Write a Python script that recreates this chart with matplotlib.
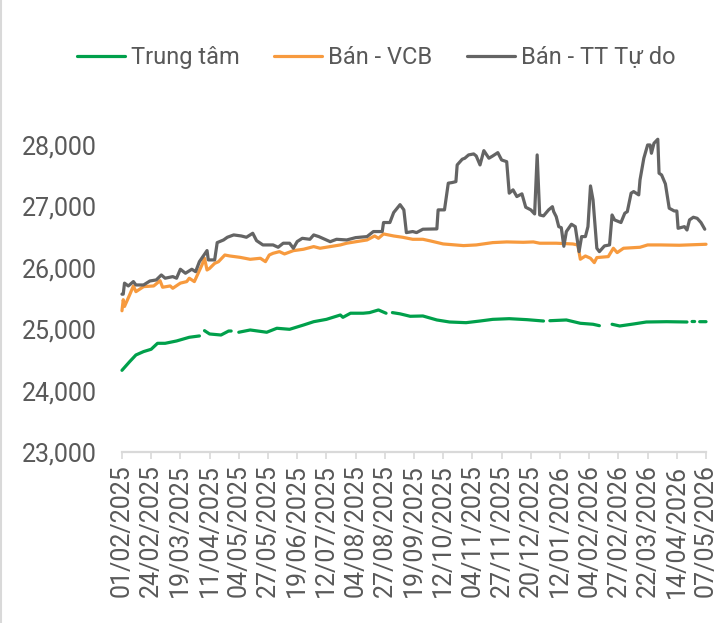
import numpy as np
import pandas as pd
import matplotlib
matplotlib.use("Agg")
import matplotlib.pyplot as plt
import matplotlib.dates as mdates
from matplotlib.ticker import FuncFormatter
from matplotlib.lines import Line2D

# --- data ---
central_dates = [
    "2025-02-01", "2025-02-07", "2025-02-12", "2025-02-18", "2025-02-24", "2025-03-01",
    "2025-03-07", "2025-03-16", "2025-03-26", "2025-04-03", "2025-04-05", "2025-04-07",
    "2025-04-11", "2025-04-20", "2025-04-26", "2025-04-28", "2025-05-01", "2025-05-04",
    "2025-05-13", "2025-05-26", "2025-06-03", "2025-06-13", "2025-06-24", "2025-07-02",
    "2025-07-12", "2025-07-23", "2025-07-25", "2025-07-31", "2025-08-10", "2025-08-15",
    "2025-08-22", "2025-08-28", "2025-08-30", "2025-09-02", "2025-09-08", "2025-09-16",
    "2025-09-26", "2025-10-07", "2025-10-17", "2025-10-30", "2025-11-10", "2025-11-20",
    "2025-12-03", "2025-12-17", "2025-12-30", "2026-01-01", "2026-01-04", "2026-01-17",
    "2026-01-28", "2026-02-07", "2026-02-12", "2026-02-16", "2026-02-22", "2026-02-28",
    "2026-03-11", "2026-03-21", "2026-04-06", "2026-04-22", "2026-04-24", "2026-04-26",
    "2026-04-28", "2026-04-29", "2026-05-02", "2026-05-07",
]
central_rate = [
    24330, 24470, 24580, 24635, 24673, 24770,
    24770, 24808, 24868, 24890, np.nan, 24976,
    24922, 24905, 24970, 24970, np.nan, 24950,
    24987, 24950, 25015, 24998, 25068, 25122,
    25160, 25231, 25193, 25260, 25260, 25270,
    25313, 25260, np.nan, 25270, 25250, 25210,
    25215, 25150, 25117, 25106, 25133, 25160,
    25171, 25155, 25133, np.nan, 25138, 25150,
    25096, 25080, 25057, np.nan, 25080, 25052,
    25085, 25117, 25122, 25117, np.nan, 25125,
    25125, np.nan, 25122, 25122,
]

vcb_dates = [
    "2025-02-01", "2025-02-02", "2025-02-03", "2025-02-07", "2025-02-10", "2025-02-12",
    "2025-02-18", "2025-02-26", "2025-03-03", "2025-03-05", "2025-03-11", "2025-03-13",
    "2025-03-19", "2025-03-24", "2025-03-26", "2025-03-30", "2025-04-02", "2025-04-05",
    "2025-04-07", "2025-04-09", "2025-04-11", "2025-04-15", "2025-04-18", "2025-04-23",
    "2025-04-27", "2025-05-05", "2025-05-13", "2025-05-21", "2025-05-25", "2025-05-28",
    "2025-05-31", "2025-06-05", "2025-06-09", "2025-06-16", "2025-06-24", "2025-07-02",
    "2025-07-07", "2025-07-15", "2025-07-23", "2025-07-28", "2025-08-05", "2025-08-13",
    "2025-08-19", "2025-08-22", "2025-08-26", "2025-09-03", "2025-09-10", "2025-09-18",
    "2025-09-26", "2025-10-02", "2025-10-12", "2025-10-28", "2025-11-07", "2025-11-20",
    "2025-12-01", "2025-12-14", "2025-12-22", "2025-12-27", "2026-01-09", "2026-01-22",
    "2026-01-26", "2026-01-28", "2026-02-01", "2026-02-05", "2026-02-08", "2026-02-10",
    "2026-02-19", "2026-02-23", "2026-02-26", "2026-03-03", "2026-03-16", "2026-03-22",
    "2026-04-01", "2026-04-16", "2026-05-07",
]
vcb_sell = [
    25300, 25480, 25370, 25557, 25704, 25611,
    25693, 25704, 25790, 25683, 25704, 25666,
    25750, 25775, 25830, 25775, 25911, 26046,
    26155, 25964, 25990, 26072, 26099, 26208,
    26192, 26170, 26138, 26155, 26100, 26208,
    26236, 26263, 26225, 26279, 26302, 26345,
    26318, 26345, 26372, 26400, 26427, 26453,
    26518, 26480, 26551, 26518, 26497, 26464,
    26464, 26437, 26388, 26361, 26372, 26410,
    26421, 26415, 26421, 26400, 26400, 26388,
    26372, 26139, 26192, 26155, 26084, 26166,
    26182, 26318, 26247, 26318, 26334, 26372,
    26372, 26367, 26383,
]

free_dates = [
    "2025-02-01", "2025-02-02", "2025-02-03", "2025-02-06", "2025-02-10", "2025-02-12",
    "2025-02-18", "2025-02-23", "2025-02-28", "2025-03-04", "2025-03-07", "2025-03-13",
    "2025-03-16", "2025-03-19", "2025-03-23", "2025-03-28", "2025-03-31", "2025-04-03",
    "2025-04-09", "2025-04-10", "2025-04-15", "2025-04-17", "2025-04-22", "2025-04-25",
    "2025-04-30", "2025-05-06", "2025-05-10", "2025-05-15", "2025-05-18", "2025-05-23",
    "2025-05-31", "2025-06-04", "2025-06-08", "2025-06-13", "2025-06-16", "2025-06-19",
    "2025-06-23", "2025-06-29", "2025-07-02", "2025-07-06", "2025-07-09", "2025-07-15",
    "2025-07-20", "2025-07-28", "2025-08-04", "2025-08-13", "2025-08-18", "2025-08-25",
    "2025-08-26", "2025-08-31", "2025-09-03", "2025-09-08", "2025-09-11", "2025-09-13",
    "2025-09-18", "2025-09-21", "2025-09-26", "2025-10-07", "2025-10-08", "2025-10-13",
    "2025-10-16", "2025-10-19", "2025-10-22", "2025-10-23", "2025-10-27", "2025-10-29",
    "2025-11-01", "2025-11-05", "2025-11-07", "2025-11-10", "2025-11-13", "2025-11-17",
    "2025-11-20", "2025-11-24", "2025-11-27", "2025-12-01", "2025-12-03", "2025-12-06",
    "2025-12-09", "2025-12-13", "2025-12-16", "2025-12-20", "2025-12-23", "2025-12-25",
    "2025-12-27", "2025-12-30", "2026-01-03", "2026-01-06", "2026-01-07", "2026-01-09",
    "2026-01-11", "2026-01-13", "2026-01-15", "2026-01-17", "2026-01-21", "2026-01-24",
    "2026-01-27", "2026-01-29", "2026-02-01", "2026-02-03", "2026-02-05", "2026-02-07",
    "2026-02-10", "2026-02-12", "2026-02-16", "2026-02-20", "2026-02-22", "2026-02-24",
    "2026-03-01", "2026-03-04", "2026-03-06", "2026-03-09", "2026-03-11", "2026-03-15",
    "2026-03-16", "2026-03-19", "2026-03-22", "2026-03-24", "2026-03-25", "2026-03-27",
    "2026-03-30", "2026-03-31", "2026-04-02", "2026-04-05", "2026-04-08", "2026-04-12",
    "2026-04-14", "2026-04-15", "2026-04-20", "2026-04-22", "2026-04-24", "2026-04-27",
    "2026-04-30", "2026-05-03", "2026-05-06",
]
free_sell = [
    25570, 25570, 25750, 25704, 25775, 25720,
    25720, 25785, 25802, 25883, 25830, 25856,
    25830, 25976, 25911, 25976, 25937, 26100,
    26280, 26128, 26128, 26410, 26453, 26497,
    26535, 26518, 26497, 26562, 26442, 26372,
    26372, 26334, 26400, 26400, 26318, 26427,
    26480, 26464, 26535, 26508, 26480, 26425,
    26464, 26453, 26491, 26508, 26590, 26590,
    26737, 26737, 26900, 27028, 26943, 26573,
    26590, 26573, 26628, 26633, 26943, 26943,
    27378, 27388, 27403, 27675, 27768, 27784,
    27838, 27854, 27821, 27675, 27908, 27784,
    27821, 27875, 27756, 27728, 27215, 27269,
    27160, 27204, 26986, 26943, 26877, 27838,
    26860, 26845, 26943, 26995, 26915, 26833,
    26670, 26653, 26350, 26590, 26709, 26670,
    26263, 26508, 26508, 26670, 27333, 27105,
    26318, 26263, 26356, 26372, 26860, 26779,
    26737, 26888, 26915, 27215, 27241, 27187,
    27431, 27784, 28000, 28000, 27865, 28028,
    28093, 27540, 27512, 27366, 26970, 26925,
    26925, 26643, 26670, 26615, 26780, 26823,
    26806, 26737, 26628,
]

series_labels = ["Trung tâm", "Bán - VCB", "Bán - TT Tự do"]
series_colors = ["#00A04B", "#F79A3E", "#646464"]

tick_start = "2025-02-01"
tick_end = "2026-05-07"

# --- plot ---
plt.rcParams["font.family"] = ["Roboto", "DejaVu Sans"]
text_color = "#595959"

fig = plt.figure(figsize=(7.26, 6.23), dpi=100)
ax = fig.add_axes([0.168, 0.2745, 0.8045, 0.4928])

series = [
    (central_dates, central_rate),
    (vcb_dates, vcb_sell),
    (free_dates, free_sell),
]
for (d, v), lab, col in zip(series, series_labels, series_colors):
    ax.plot(pd.to_datetime(d), v, color=col, lw=2.3, label=lab,
            clip_on=False, solid_capstyle="round")

ax.set_xlim(pd.Timestamp(tick_start), pd.Timestamp(tick_end))
ax.set_ylim(23000, 28000)
ax.set_yticks(np.arange(23000, 28001, 1000))
ax.yaxis.set_major_formatter(FuncFormatter(lambda v, p: f"{v:,.0f}"))

xticks = pd.date_range(tick_start, tick_end, freq="23D")
ax.set_xticks(xticks)
ax.xaxis.set_major_formatter(mdates.DateFormatter("%d/%m/%Y"))
plt.setp(ax.get_xticklabels(), rotation=90)

for s in ["top", "right", "left"]:
    ax.spines[s].set_visible(False)
ax.spines["bottom"].set_color("#D9D9D9")
ax.spines["bottom"].set_linewidth(1.6)

ax.tick_params(axis="y", length=0, pad=18, labelsize=18, labelcolor=text_color)
ax.tick_params(axis="x", length=5, width=1.2, color="#D9D9D9", pad=4,
               labelsize=18, labelcolor=text_color)

fig.legend(loc="center", bbox_to_anchor=(0.518, 0.907), ncol=3, frameon=False,
           fontsize=17, handlelength=2.05, handletextpad=0.25, columnspacing=1.45,
           labelcolor=text_color)

# light border line at the left edge as in the source image
fig.add_artist(Line2D([0.002, 0.002], [0, 1], color="#D9D9D9", lw=1.5))

fig.savefig("out.png", dpi=100)
